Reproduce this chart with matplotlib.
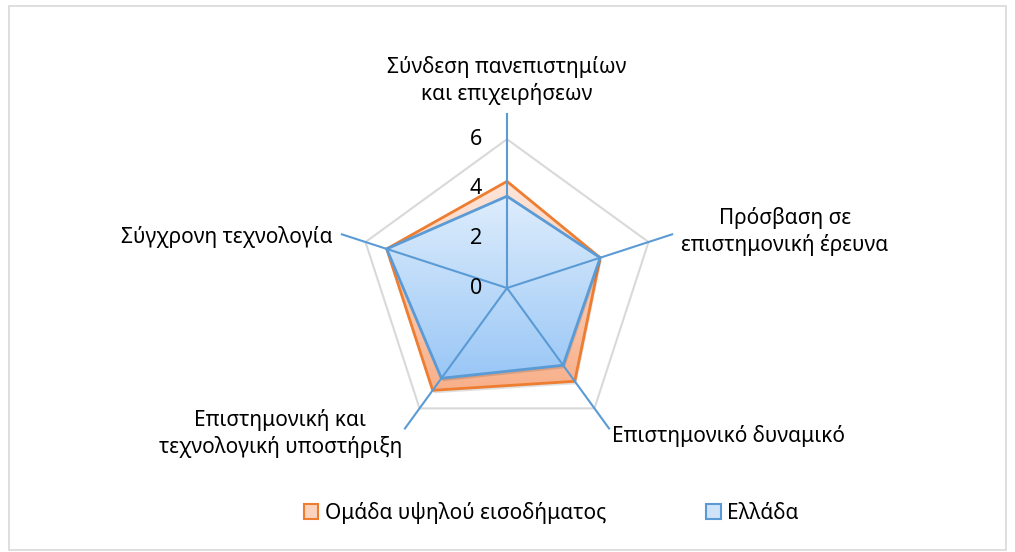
import numpy as np
import matplotlib
matplotlib.use("Agg")
from matplotlib import pyplot as plt
from matplotlib.patches import Polygon, Patch, Rectangle
from matplotlib.colors import LinearSegmentedColormap

plt.rcParams['font.family'] = ['Noto Sans', 'DejaVu Sans']

# dados do gráfico
categories = ["Σύνδεση πανεπιστημίων\nκαι επιχειρήσεων",
              "Πρόσβαση σε\nεπιστημονική έρευνα",
              "Επιστημονικό δυναμικό",
              "Επιστημονική και\nτεχνολογική υποστήριξη",
              "Σύγχρονη τεχνολογία"]
high_income = [4.3, 3.95, 4.65, 5.1, 5.1]
greece = [3.7, 3.95, 3.85, 4.5, 5.1]
series_names = ["Ομάδα υψηλού εισοδήματος", "Ελλάδα"]
ticks = [0, 2, 4, 6]
r_max = 7

W, H = 1015, 552
scale = 24.8          # pixels por unidade
cx, cy = 507, 288     # centro em pixels (a partir do topo)

fig = plt.figure(figsize=(W / 100, H / 100), dpi=100)
ax = fig.add_axes([0, 0, 1, 1])
ax.axis('off')

n = len(categories)
ang = np.deg2rad(90 - 72 * np.arange(n))


def xy(vals):
    v = np.asarray(vals, dtype=float)
    return np.column_stack([v * np.cos(ang), v * np.sin(ang)])


# grelha exterior
ax.add_patch(Polygon(xy([ticks[-1]] * n), closed=True, fill=False,
                     edgecolor="#D9D9D9", lw=1.5, zorder=1))

blue_edge = "#5B9BD5"
orange_edge = "#ED7D31"


def grad_fill(vals, c_top, c_bot, edge, z):
    pts = xy(vals)
    # sombra
    sh = pts + np.array([0.06, -0.12])
    ax.add_patch(Polygon(sh, closed=True, facecolor="#000000", alpha=0.12,
                         edgecolor="none", zorder=z - 0.5))
    ax.add_patch(Polygon(pts, closed=True, facecolor="none", edgecolor=edge,
                         lw=2, zorder=z + 0.2))
    cmap = LinearSegmentedColormap.from_list("g", [c_bot, c_top])
    x0, x1 = pts[:, 0].min(), pts[:, 0].max()
    y0, y1 = pts[:, 1].min(), pts[:, 1].max()
    grad = np.linspace(0, 1, 256).reshape(-1, 1)
    im = ax.imshow(grad, extent=(x0, x1, y0, y1), origin='lower', cmap=cmap,
                   aspect='auto', zorder=z, interpolation='bilinear')
    im.set_clip_path(Polygon(pts, closed=True, transform=ax.transData))


grad_fill(high_income, "#FDE6DA", "#F8B08A", orange_edge, 3)
grad_fill(greece, "#DEEDFC", "#9AC7F6", blue_edge, 5)
ax.set_xlim(-cx / scale, (W - cx) / scale)
ax.set_ylim(-(H - cy) / scale, cy / scale)

# eixos radiais
ends = xy([r_max] * n)
for (ex, ey) in ends:
    ax.plot([0, ex], [0, ey], color=blue_edge, lw=1.5, zorder=7)

# rótulos dos ticks
for t in ticks:
    ax.annotate(str(t), (0, t), xytext=(-31, 0), textcoords='offset pixels',
                ha='center', va='center', fontsize=15.5, color="#000000", zorder=8)

# rótulos das categorias
offs = [(0, 9), (9, 3), (3, -8), (-3, -5), (-9, -3)]
has = ['center', 'left', 'left', 'right', 'right']
vas = ['bottom', 'center', 'center', 'center', 'center']
for lab, (ex, ey), off, h, v in zip(categories, ends, offs, has, vas):
    ax.annotate(lab, (ex, ey), xytext=off, textcoords='offset pixels',
                ha=h, va=v, multialignment='center', fontsize=15,
                color="#000000", linespacing=1.3)

handles = [Patch(facecolor="#FCD3BE", edgecolor=orange_edge, lw=1.5),
           Patch(facecolor="#CFE4FA", edgecolor=blue_edge, lw=1.5)]
fig.legend(handles, series_names, loc='center', ncol=2,
           bbox_to_anchor=(551 / W, 1 - 513 / H), frameon=False,
           fontsize=15, handlelength=0.7, handleheight=0.7,
           handletextpad=0.3, columnspacing=4.8)

fig.add_artist(Rectangle((9 / W, 1 - 550 / H), (1006 - 9) / W, (550 - 6) / H,
                         transform=fig.transFigure, fill=False,
                         edgecolor="#D9D9D9", lw=1.2))

plt.savefig("out.png", dpi=100)
